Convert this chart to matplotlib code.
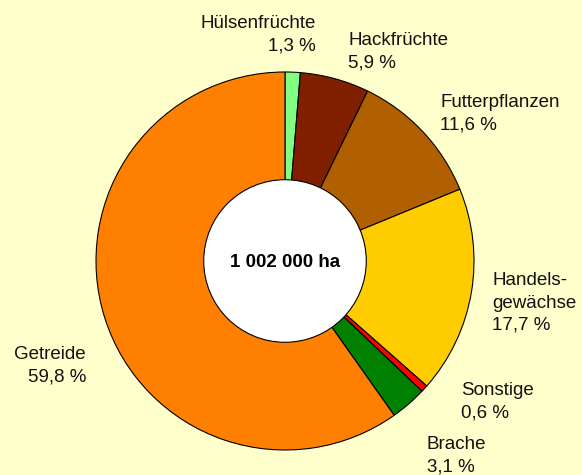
import matplotlib.pyplot as plt
from matplotlib.patches import Circle

plt.rcParams['font.family'] = ['Liberation Sans', 'DejaVu Sans']

# Flächenanteile (%)
labels = ["Hülsenfrüchte", "Hackfrüchte", "Futterpflanzen", "Handels-\ngewächse",
          "Sonstige", "Brache", "Getreide"]
shares = [1.3, 5.9, 11.6, 17.7, 0.6, 3.1, 59.8]
colors = ["#80FF80", "#802000", "#B06000", "#FFCC00", "#FF0000", "#008000", "#FF8000"]
total_text = "1 002 000 ha"

# label placement in pixels: (x, first baseline y, alignment)
label_pos = [(316, 28, "right"), (348, 45, "left"), (440, 107, "left"),
             (492, 285, "left"), (461, 395, "left"), (427, 449, "left"),
             (86, 359, "right")]

W, H = 582, 475
bg = "#FFFFCC"
fig = plt.figure(figsize=(W / 100, H / 100), dpi=100, facecolor=bg)

# pie center at (285, 261) px, radius 189 px
cx, cy, r = 285, 261, 189
ax = fig.add_axes([(cx - r) / W, (H - cy - r) / H, 2 * r / W, 2 * r / H])
ax.set_facecolor(bg)
ax.axis("off")

wedges, _ = ax.pie(shares, colors=colors, startangle=90, counterclock=False,
                   radius=1.0, wedgeprops=dict(edgecolor="black", linewidth=0.8))
for w in wedges:
    w.set_clip_on(False)

hole = Circle((0, 0), 0.43, facecolor="white", edgecolor="black", linewidth=0.8, zorder=5)
ax.add_patch(hole)
ax.text(0, -0.01, total_text, ha="center", va="center", fontsize=13.5,
        fontweight="bold", zorder=6)
ax.set_xlim(-1, 1)
ax.set_ylim(-1, 1)

fs = 13.5
step = 22.5
for lab, val, (x, y, ha) in zip(labels, shares, label_pos):
    lines = lab.split("\n") + [f"{val:.1f} %".replace(".", ",")]
    for i, line in enumerate(lines):
        fig.text(x / W, 1 - (y + i * step) / H, line, ha=ha, va="baseline",
                 fontsize=fs, color="#111111")

fig.savefig("out.png", dpi=100, facecolor=bg)
